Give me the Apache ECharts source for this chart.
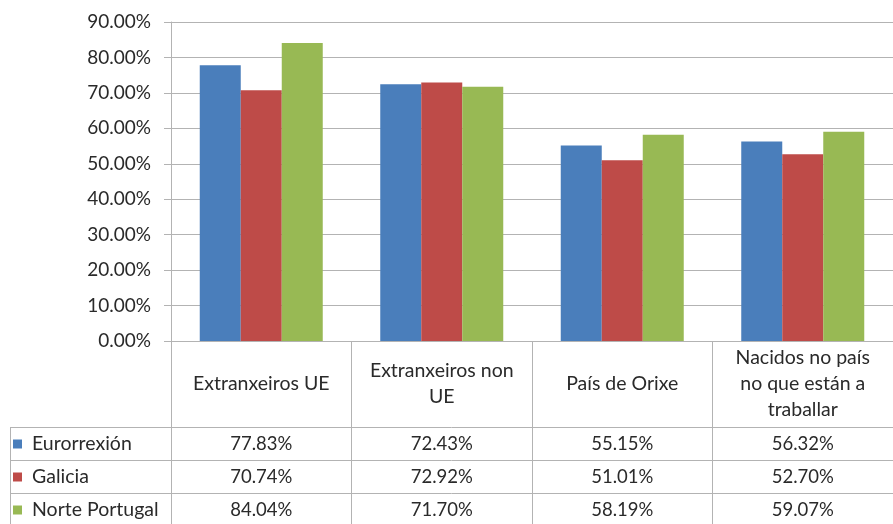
<!DOCTYPE html>
<html><head><meta charset="utf-8">
<script src="https://cdn.jsdelivr.net/npm/echarts@6/dist/echarts.min.js"></script>
<style>html,body{margin:0;padding:0;background:#fff}#c{width:893px;height:524px}</style>
</head><body><div id="c"></div>
<script>
var categories = ['Extranxeiros UE', 'Extranxeiros non\nUE', 'País de Orixe', 'Nacidos no país\nno que están a\ntraballar'];
var seriesNames = ['Eurorrexión', 'Galicia', 'Norte Portugal'];
var eurorrexion = [77.83, 72.43, 55.15, 56.32];
var galicia = [70.74, 72.92, 51.01, 52.70];
var nortePortugal = [84.04, 71.70, 58.19, 59.07];
var colors = ['#4a7ebb', '#be4b48', '#98b954'];
var FONT = 'Lato';
var TXT = '#2a2a2a';
var values = [eurorrexion, galicia, nortePortugal];

var chart = echarts.init(document.getElementById('c'), null, {renderer: 'canvas'});
var gridColor = '#b3b3b3';
var rowTops = [433, 466, 499];
var option = {
  animation: false,
  textStyle: {fontFamily: FONT},
  color: colors,
  legend: seriesNames.map(function (n, i) {
    return {
      orient: 'vertical', left: 13, top: rowTops[i], padding: 0,
      icon: 'rect', itemWidth: 9, itemHeight: 9, itemGap: 0,
      data: [n],
      textStyle: {fontSize: 19.5, color: TXT, fontFamily: FONT, lineHeight: 22, padding: [0, 0, 0, 5]}
    };
  }),
  grid: {left: 171, top: 22, bottom: 183, width: 732},
  xAxis: {
    type: 'category', data: categories,
    axisLine: {show: true, lineStyle: {color: gridColor, width: 1}},
    axisTick: {show: true, interval: 0, length: 185, lineStyle: {color: gridColor, width: 1}},
    axisLabel: {interval: 0, fontSize: 19.5, color: TXT, lineHeight: 26, margin: 43, verticalAlign: 'middle', fontFamily: FONT}
  },
  yAxis: {
    type: 'value', min: 0, max: 90, interval: 10,
    axisLine: {show: true, lineStyle: {color: gridColor}},
    axisTick: {show: true, length: 7, lineStyle: {color: gridColor}},
    splitLine: {lineStyle: {color: gridColor, width: 1}},
    axisLabel: {fontSize: 19, color: TXT, margin: 20, fontFamily: FONT,
      formatter: function (v) { return v.toFixed(2) + '%'; }}
  },
  series: seriesNames.map(function (n, i) {
    return {name: n, type: 'bar', data: values[i], barWidth: 41, barGap: '0%'};
  })
};
chart.setOption(option);

var graphics = [];
var lineStyle = {stroke: gridColor, lineWidth: 1};
var rowLines = [427.5, 460.5, 493.5];
rowLines.forEach(function (y) {
  graphics.push({type: 'line', shape: {x1: 10, y1: y, x2: 893, y2: y}, style: lineStyle, silent: true});
});
graphics.push({type: 'line', shape: {x1: 10.5, y1: 427, x2: 10.5, y2: 524}, style: lineStyle, silent: true});
var rowCenters = [444, 477, 510];
values.forEach(function (arr, si) {
  arr.forEach(function (v, ci) {
    var x = chart.convertToPixel({xAxisIndex: 0}, ci);
    graphics.push({type: 'text', x: x, y: rowCenters[si], silent: true,
      style: {text: v.toFixed(2) + '%', fontSize: 18.5, fontFamily: FONT, fill: TXT, align: 'center', verticalAlign: 'middle'}});
  });
});
chart.setOption({graphic: graphics});
</script></body></html>
